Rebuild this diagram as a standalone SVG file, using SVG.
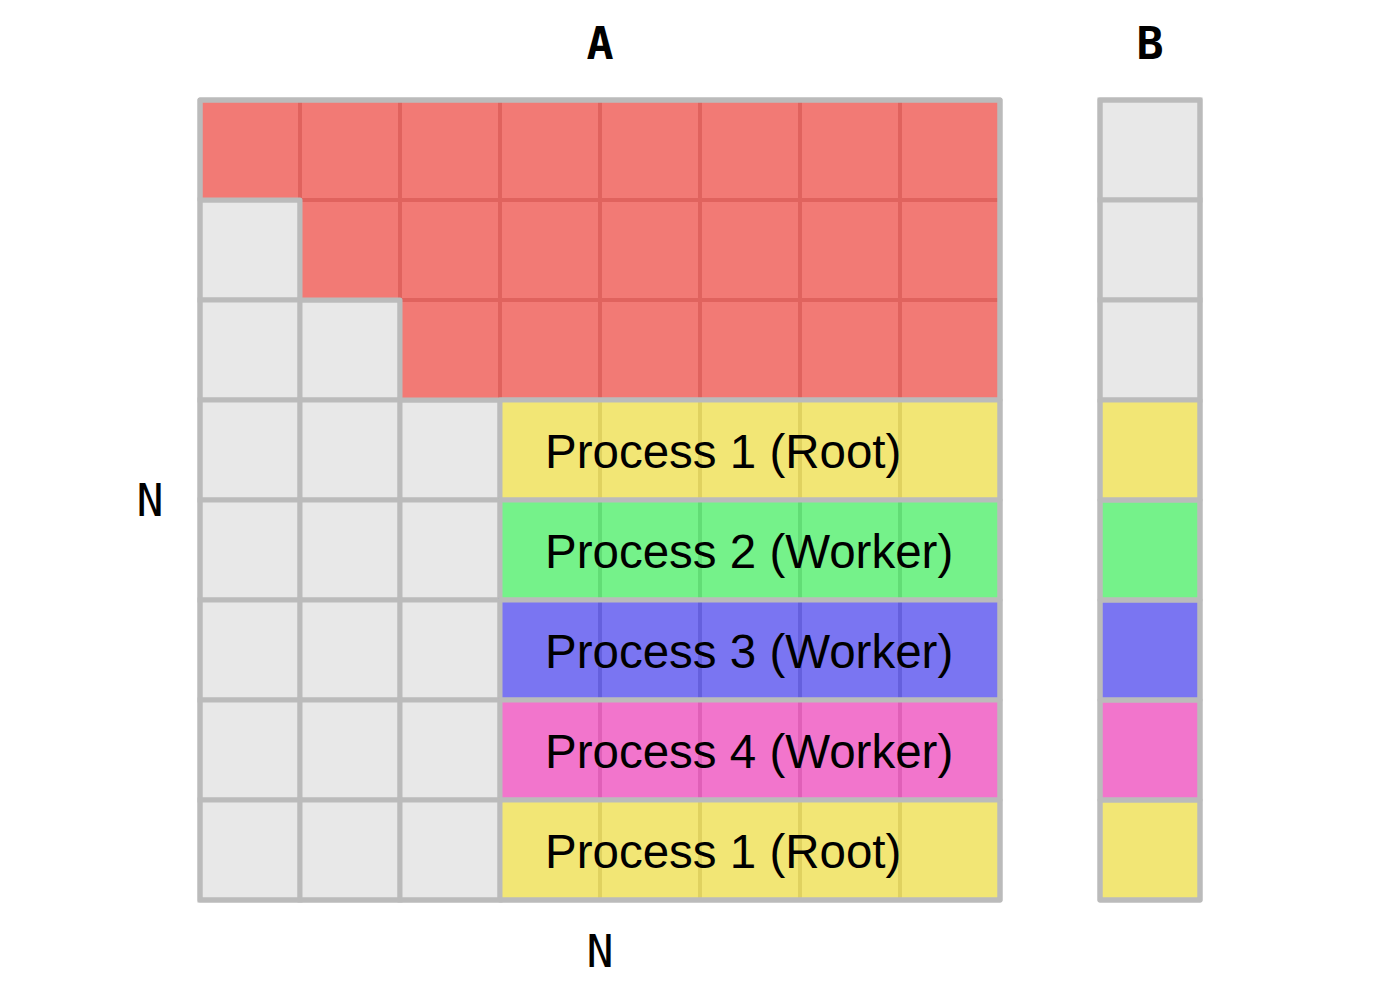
<svg xmlns="http://www.w3.org/2000/svg" width="1400" height="1000" viewBox="0 0 1400 1000">
<style>
.g{fill:#e8e8e8;stroke:#bbbbbb;stroke-width:5}
.o{fill:none;stroke:#bbbbbb;stroke-width:5;stroke-linejoin:round}
.r{fill:#f27a75;stroke:#e0635e;stroke-width:4}
.y{fill:#f2e675;stroke:#e0d260;stroke-width:4}
.gr{fill:#75f28a;stroke:#62dd76;stroke-width:4}
.b{fill:#7a75f2;stroke:#6560dd;stroke-width:4}
.p{fill:#f275cc;stroke:#e060b8;stroke-width:4}
.yb{fill:#f2e675}
.grb{fill:#75f28a}
.bb{fill:#7a75f2}
.pb{fill:#f275cc}
.lab{font-family:"DejaVu Sans Mono",monospace;font-size:45px;fill:#000;text-anchor:middle}
.pt{font-family:"Liberation Sans",Arial,sans-serif;font-size:47.5px;fill:#000}
</style>
<rect width="1400" height="1000" fill="#fff"/>
<g id="matrixA">
<g id="grayCells">
<rect class="g" x="200" y="200" width="100" height="100"/>
<rect class="g" x="200" y="300" width="100" height="100"/>
<rect class="g" x="300" y="300" width="100" height="100"/>
<rect class="g" x="200" y="400" width="100" height="100"/>
<rect class="g" x="300" y="400" width="100" height="100"/>
<rect class="g" x="400" y="400" width="100" height="100"/>
<rect class="g" x="200" y="500" width="100" height="100"/>
<rect class="g" x="300" y="500" width="100" height="100"/>
<rect class="g" x="400" y="500" width="100" height="100"/>
<rect class="g" x="200" y="600" width="100" height="100"/>
<rect class="g" x="300" y="600" width="100" height="100"/>
<rect class="g" x="400" y="600" width="100" height="100"/>
<rect class="g" x="200" y="700" width="100" height="100"/>
<rect class="g" x="300" y="700" width="100" height="100"/>
<rect class="g" x="400" y="700" width="100" height="100"/>
<rect class="g" x="200" y="800" width="100" height="100"/>
<rect class="g" x="300" y="800" width="100" height="100"/>
<rect class="g" x="400" y="800" width="100" height="100"/>
</g>
<g id="redRegion">
<rect class="r" x="200" y="100" width="100" height="100"/>
<rect class="r" x="300" y="100" width="100" height="100"/>
<rect class="r" x="400" y="100" width="100" height="100"/>
<rect class="r" x="500" y="100" width="100" height="100"/>
<rect class="r" x="600" y="100" width="100" height="100"/>
<rect class="r" x="700" y="100" width="100" height="100"/>
<rect class="r" x="800" y="100" width="100" height="100"/>
<rect class="r" x="900" y="100" width="100" height="100"/>
<rect class="r" x="300" y="200" width="100" height="100"/>
<rect class="r" x="400" y="200" width="100" height="100"/>
<rect class="r" x="500" y="200" width="100" height="100"/>
<rect class="r" x="600" y="200" width="100" height="100"/>
<rect class="r" x="700" y="200" width="100" height="100"/>
<rect class="r" x="800" y="200" width="100" height="100"/>
<rect class="r" x="900" y="200" width="100" height="100"/>
<rect class="r" x="400" y="300" width="100" height="100"/>
<rect class="r" x="500" y="300" width="100" height="100"/>
<rect class="r" x="600" y="300" width="100" height="100"/>
<rect class="r" x="700" y="300" width="100" height="100"/>
<rect class="r" x="800" y="300" width="100" height="100"/>
<rect class="r" x="900" y="300" width="100" height="100"/>
<polygon class="o" points="200,100 1000,100 1000,400 400,400 400,300 300,300 300,200 200,200"/>
</g>
<g id="row1">
<rect class="y" x="500" y="400" width="100" height="100"/>
<rect class="y" x="600" y="400" width="100" height="100"/>
<rect class="y" x="700" y="400" width="100" height="100"/>
<rect class="y" x="800" y="400" width="100" height="100"/>
<rect class="y" x="900" y="400" width="100" height="100"/>
<rect class="o" x="500" y="400" width="500" height="100"/>
<text class="pt" x="545" y="468">Process 1 (Root)</text>
</g>
<g id="row2">
<rect class="gr" x="500" y="500" width="100" height="100"/>
<rect class="gr" x="600" y="500" width="100" height="100"/>
<rect class="gr" x="700" y="500" width="100" height="100"/>
<rect class="gr" x="800" y="500" width="100" height="100"/>
<rect class="gr" x="900" y="500" width="100" height="100"/>
<rect class="o" x="500" y="500" width="500" height="100"/>
<text class="pt" x="545" y="568">Process 2 (Worker)</text>
</g>
<g id="row3">
<rect class="b" x="500" y="600" width="100" height="100"/>
<rect class="b" x="600" y="600" width="100" height="100"/>
<rect class="b" x="700" y="600" width="100" height="100"/>
<rect class="b" x="800" y="600" width="100" height="100"/>
<rect class="b" x="900" y="600" width="100" height="100"/>
<rect class="o" x="500" y="600" width="500" height="100"/>
<text class="pt" x="545" y="668">Process 3 (Worker)</text>
</g>
<g id="row4">
<rect class="p" x="500" y="700" width="100" height="100"/>
<rect class="p" x="600" y="700" width="100" height="100"/>
<rect class="p" x="700" y="700" width="100" height="100"/>
<rect class="p" x="800" y="700" width="100" height="100"/>
<rect class="p" x="900" y="700" width="100" height="100"/>
<rect class="o" x="500" y="700" width="500" height="100"/>
<text class="pt" x="545" y="768">Process 4 (Worker)</text>
</g>
<g id="row5">
<rect class="y" x="500" y="800" width="100" height="100"/>
<rect class="y" x="600" y="800" width="100" height="100"/>
<rect class="y" x="700" y="800" width="100" height="100"/>
<rect class="y" x="800" y="800" width="100" height="100"/>
<rect class="y" x="900" y="800" width="100" height="100"/>
<rect class="o" x="500" y="800" width="500" height="100"/>
<text class="pt" x="545" y="868">Process 1 (Root)</text>
</g>
<rect class="o" x="200" y="100" width="800" height="800"/>
</g>
<g id="vectorB">
<rect class="g" x="1100" y="100" width="100" height="100"/>
<rect class="g" x="1100" y="200" width="100" height="100"/>
<rect class="g" x="1100" y="300" width="100" height="100"/>
<rect class="yb" x="1100" y="400" width="100" height="100"/>
<rect class="grb" x="1100" y="500" width="100" height="100"/>
<rect class="bb" x="1100" y="600" width="100" height="100"/>
<rect class="pb" x="1100" y="700" width="100" height="100"/>
<rect class="yb" x="1100" y="800" width="100" height="100"/>
<rect class="o" x="1100" y="400" width="100" height="100"/>
<rect class="o" x="1100" y="500" width="100" height="100"/>
<rect class="o" x="1100" y="600" width="100" height="100"/>
<rect class="o" x="1100" y="700" width="100" height="100"/>
<rect class="o" x="1100" y="800" width="100" height="100"/>
<rect class="o" x="1100" y="100" width="100" height="800"/>
</g>
<g id="labels">
<text class="lab" x="600" y="59" font-weight="bold">A</text>
<text class="lab" x="1150" y="59" font-weight="bold">B</text>
<text class="lab" x="150" y="516">N</text>
<text class="lab" x="600" y="967">N</text>
</g>
</svg>
